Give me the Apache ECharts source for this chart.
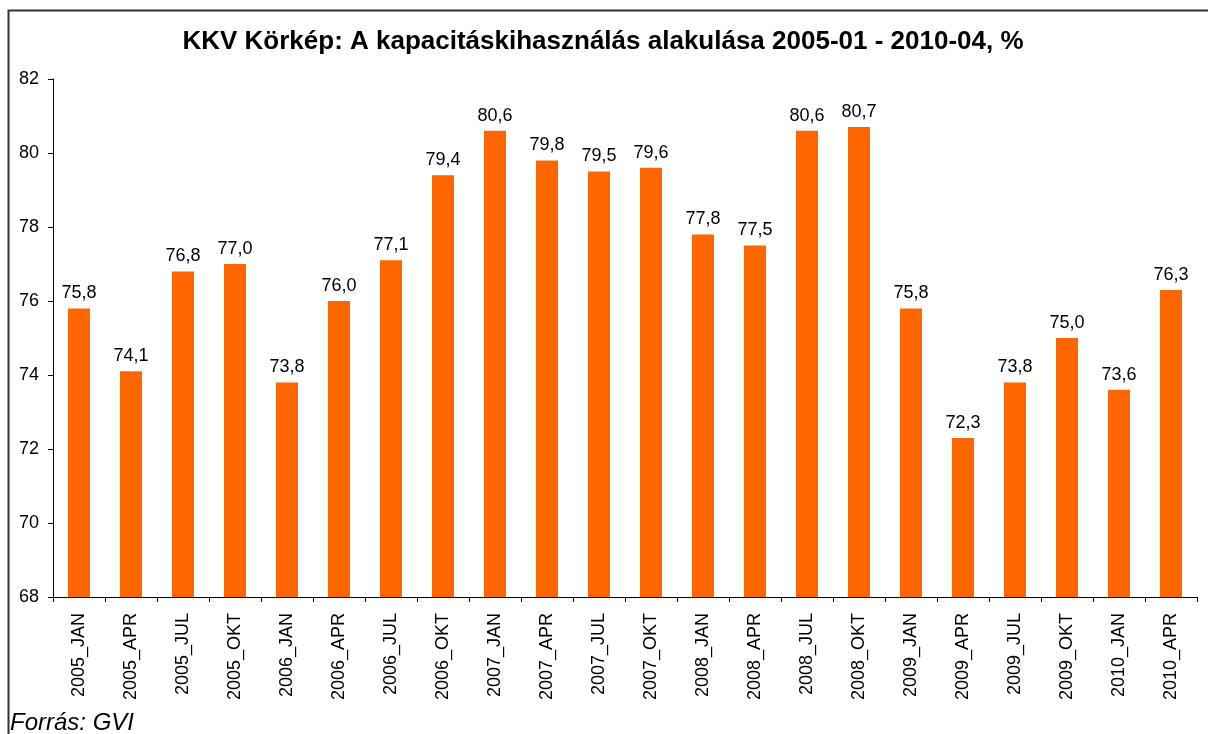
<!DOCTYPE html>
<html><head><meta charset="utf-8">
<script src="https://cdn.jsdelivr.net/npm/echarts@6/dist/echarts.min.js"></script>
<style>html,body{margin:0;padding:0;background:#fff}#c{width:1208px;height:734px}</style>
</head><body><div id="c"></div>
<script>
const categories = ['2005_JAN','2005_APR','2005_JUL','2005_OKT','2006_JAN','2006_APR','2006_JUL','2006_OKT','2007_JAN','2007_APR','2007_JUL','2007_OKT','2008_JAN','2008_APR','2008_JUL','2008_OKT','2009_JAN','2009_APR','2009_JUL','2009_OKT','2010_JAN','2010_APR'];
const values = [75.8,74.1,76.8,77.0,73.8,76.0,77.1,79.4,80.6,79.8,79.5,79.6,77.8,77.5,80.6,80.7,75.8,72.3,73.8,75.0,73.6,76.3];
const titleText = 'KKV Körkép: A kapacitáskihasználás alakulása 2005-01 - 2010-04, %';
const sourceText = 'Forrás: GVI';
const chart = echarts.init(document.getElementById('c'), null, {renderer:'canvas'});
const F = 'Arial, "Liberation Sans", sans-serif';
chart.setOption({
  animation:false,
  backgroundColor:'#fff',
  title:{text:titleText,left:598,textAlign:'center',top:24,textStyle:{fontFamily:F,fontSize:26,fontWeight:'bold',color:'#000'}},
  graphic:[
    {type:'rect',shape:{x:8.5,y:10.5,width:1300,height:900},style:{fill:'none',stroke:'#333',lineWidth:2}},
    {type:'text',left:10,top:711,style:{text:sourceText,fontFamily:F,fontSize:24,fontStyle:'italic',fill:'#000'}}
  ],
  grid:{left:53,right:11,top:79,bottom:137,containLabel:false},
  xAxis:{type:'category',data:categories,
    axisLine:{lineStyle:{color:'#000',width:1}},
    axisTick:{show:true,alignWithLabel:false,length:5,lineStyle:{color:'#000'}},
    axisLabel:{rotate:90,interval:0,fontFamily:F,fontSize:18,color:'#000',margin:16}},
  yAxis:{type:'value',min:68,max:82,interval:2,
    axisLine:{show:true,lineStyle:{color:'#000',width:1}},
    axisTick:{show:true,length:5,lineStyle:{color:'#000'}},
    splitLine:{show:false},
    axisLabel:{fontFamily:F,fontSize:18,color:'#000',margin:14}},
  series:[{type:'bar',data:values,barWidth:22,
    itemStyle:{color:'#FF6600'},
    label:{show:true,position:'top',distance:6,fontFamily:F,fontSize:18,color:'#000',
      formatter:p=>p.value.toFixed(1).replace('.',',')}}]
});
</script></body></html>
